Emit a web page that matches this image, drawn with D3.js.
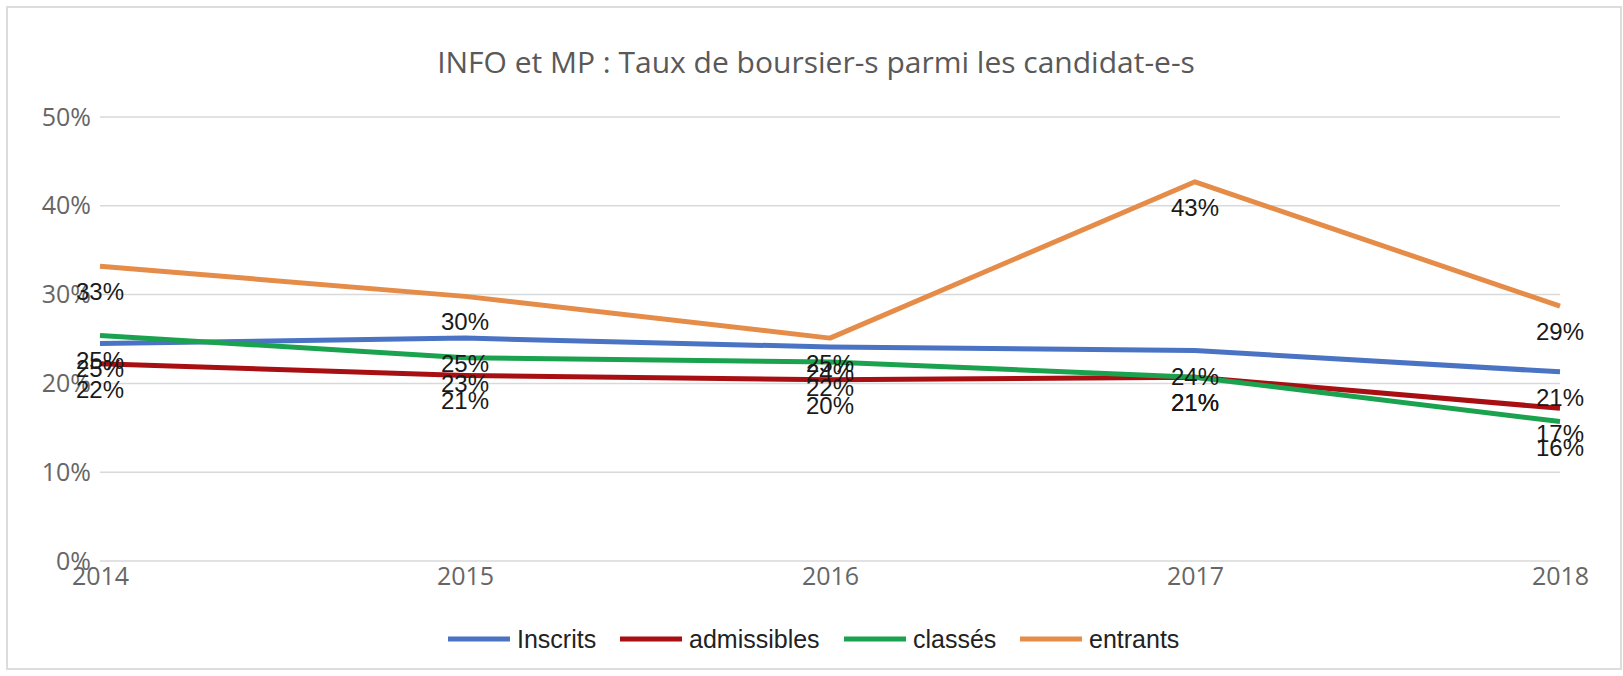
<!DOCTYPE html>
<html lang="fr">
<head>
	<meta charset="UTF-8"/>
	<title>INFO et MP : Taux de boursier-s</title>
	<script src="https://d3js.org/d3.v7.min.js"></script>
	<style>
	body { margin: 0; background: white; }
	</style>
</head>
<body>
	<div id="chart"></div>
	<script>

	// data
	var years = [2014, 2015, 2016, 2017, 2018];
	var inscrits    = [24.5, 25.1, 24.1, 23.7, 21.3];
	var admissibles = [22.2, 20.9, 20.4, 20.7, 17.2];
	var classes     = [25.4, 22.9, 22.4, 20.7, 15.7];
	var entrants    = [33.2, 29.8, 25.1, 42.7, 28.7];
	var seriesNames = ["Inscrits", "admissibles", "classés", "entrants"];
	var yTicks = [0, 10, 20, 30, 40, 50];

	var colors = ["#4a73c4", "#a80f12", "#1ba24f", "#e58c49"];
	var allSeries = [inscrits, admissibles, classes, entrants];

	// width and height
	var w = 1623;
	var h = 676;

	var svg = d3.select("#chart")
		.append("svg")
		.attr("width", w)
		.attr("height", h);

	svg.append("rect")
		.attr("x", 7)
		.attr("y", 7)
		.attr("width", 1614)
		.attr("height", 662)
		.attr("fill", "white")
		.attr("stroke", "#dcdcdc")
		.attr("stroke-width", 2);

	var xScale = d3.scalePoint()
		.domain(years)
		.range([100, 1560]);

	var yScale = d3.scaleLinear()
		.domain([0, 50])
		.range([561, 117]);

	// title
	svg.append("text")
		.attr("x", 816)
		.attr("y", 61)
		.attr("text-anchor", "middle")
		.attr("dominant-baseline", "central")
		.attr("font-family", "Open Sans")
		.attr("font-size", "30px")
		.attr("fill", "#595959")
		.text("INFO et MP : Taux de boursier-s parmi les candidat-e-s");

	// gridlines
	svg.selectAll("line.grid")
		.data(yTicks)
		.enter()
		.append("line")
		.attr("class", "grid")
		.attr("x1", 100)
		.attr("x2", 1560)
		.attr("y1", function(d) { return yScale(d); })
		.attr("y2", function(d) { return yScale(d); })
		.attr("stroke", "#d9d9d9")
		.attr("stroke-width", 1.5);

	// y axis labels
	var yAxis = d3.axisLeft(yScale)
		.tickValues(yTicks)
		.tickSize(0)
		.tickPadding(9)
		.tickFormat(function(d) { return d + "%"; });

	var gy = svg.append("g")
		.attr("transform", "translate(100,0)")
		.call(yAxis);
	gy.select(".domain").remove();
	gy.selectAll("text")
		.attr("font-family", "Open Sans")
		.attr("font-size", "25px")
		.attr("fill", "#666");

	// x axis labels
	var xAxis = d3.axisBottom(xScale)
		.tickSize(0)
		.tickPadding(6);

	var gx = svg.append("g")
		.attr("transform", "translate(0,561)")
		.call(xAxis);
	gx.select(".domain").remove();
	gx.selectAll("text")
		.attr("font-family", "Open Sans")
		.attr("font-size", "25px")
		.attr("fill", "#666");

	// lines
	var line = d3.line()
		.x(function(d, i) { return xScale(years[i]); })
		.y(function(d) { return yScale(d); });

	allSeries.forEach(function(s, k) {
		svg.append("path")
			.datum(s)
			.attr("d", line)
			.attr("fill", "none")
			.attr("stroke", colors[k])
			.attr("stroke-width", 5)
			.attr("stroke-linejoin", "round");
	});

	// value labels (they overlap in the original too)
	allSeries.forEach(function(s, k) {
		svg.selectAll("text.lab" + k)
			.data(s)
			.enter()
			.append("text")
			.attr("class", "lab" + k)
			.attr("x", function(d, i) { return xScale(years[i]); })
			.attr("y", function(d) { return yScale(d) + 34; })
			.attr("text-anchor", "middle")
			.attr("font-family", "Liberation Sans")
			.attr("font-size", "24px")
			.attr("fill", "#1a1a1a")
			.text(function(d) { return Math.round(d) + "%"; });
	});

	// legend
	var legendX = [448, 620, 844, 1020];
	var legend = svg.selectAll("g.leg")
		.data(seriesNames)
		.enter()
		.append("g")
		.attr("class", "leg")
		.attr("transform", function(d, i) { return "translate(" + legendX[i] + ",639)"; });

	legend.append("line")
		.attr("x1", 0)
		.attr("x2", 62)
		.attr("stroke", function(d, i) { return colors[i]; })
		.attr("stroke-width", 5);

	legend.append("text")
		.attr("x", 69)
		.attr("dominant-baseline", "central")
		.attr("font-family", "Liberation Sans")
		.attr("font-size", "25px")
		.attr("fill", "#222")
		.text(function(d) { return d; });

	</script>
</body>
</html>
